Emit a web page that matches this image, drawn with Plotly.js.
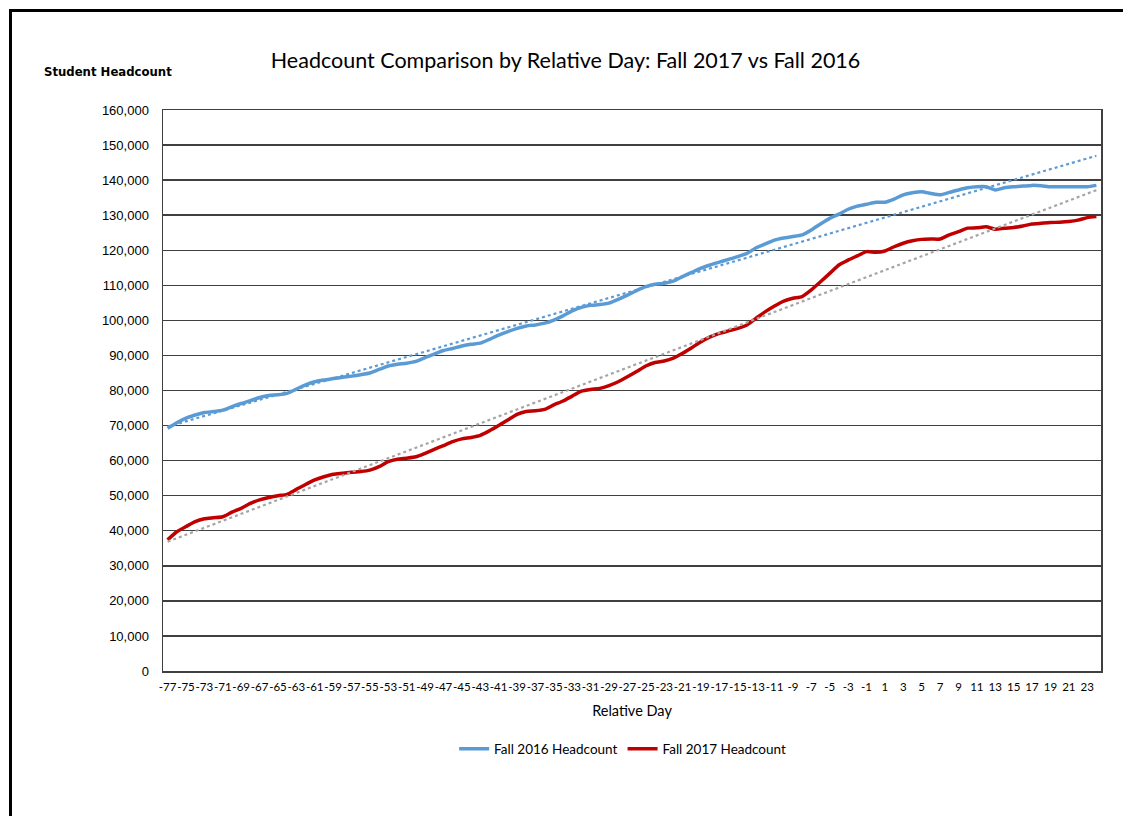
<!DOCTYPE html>
<html>
<head>
<meta charset="utf-8">
<script src="https://cdn.plot.ly/plotly-3.0.1.min.js"></script>
<style>
  html, body { margin: 0; padding: 0; background: #ffffff; }
  #frame { position: absolute; left: 9px; top: 9px; width: 1300px; height: 1000px; border: 3px solid #000; box-sizing: border-box; }
  #chart { position: absolute; left: 0; top: 0; width: 1123px; height: 816px; }
</style>
</head>
<body>
<div id="frame"></div>
<div id="chart"></div>
<script>
// Relative day categories (day 0 included, unlabelled)
const relativeDays = [-77,-76,-75,-74,-73,-72,-71,-70,-69,-68,-67,-66,-65,-64,-63,-62,-61,-60,-59,-58,
  -57,-56,-55,-54,-53,-52,-51,-50,-49,-48,-47,-46,-45,-44,-43,-42,-41,-40,-39,-38,
  -37,-36,-35,-34,-33,-32,-31,-30,-29,-28,-27,-26,-25,-24,-23,-22,-21,-20,-19,-18,
  -17,-16,-15,-14,-13,-12,-11,-10,-9,-8,-7,-6,-5,-4,-3,-2,-1,0,1,2,
  3,4,5,6,7,8,9,10,11,12,13,14,15,16,17,18,19,20,21,22,23,24];

const fall2016Headcount = [69200,70800,72100,73000,73700,74000,74400,75400,76300,77100,78000,78600,78800,79200,80400,81600,82500,83000,83400,83800,
  84100,84500,85000,86000,87000,87500,87800,88300,89400,90400,91400,92000,92700,93200,93500,94600,95800,96800,97700,98400,
  98700,99200,100100,101300,102700,103700,104300,104500,104900,106000,107200,108500,109600,110300,110600,111200,112500,113700,114900,115800,
  116600,117400,118200,119100,120700,121800,122900,123500,123900,124400,125800,127500,129100,130300,131700,132600,133100,133700,133700,134600,
  135800,136400,136700,136200,135800,136500,137200,137800,138100,138100,137200,137800,138100,138300,138500,138400,138100,138100,138100,138100,138100,138500];

const fall2017Headcount = [37400,39700,41200,42600,43400,43700,44000,45300,46400,47800,48800,49500,50000,50400,51800,53200,54500,55400,56100,56400,
  56700,56900,57300,58300,59700,60400,60700,61100,62100,63200,64300,65400,66200,66600,67200,68500,70000,71600,73200,74000,
  74200,74600,75900,77000,78400,79800,80300,80600,81400,82500,83900,85400,87000,88000,88400,89200,90600,92200,93900,95300,
  96300,97000,97700,98700,100600,102500,104100,105500,106300,106800,108700,111000,113400,115800,117200,118400,119600,119400,119800,121000,
  122000,122700,123100,123200,123200,124400,125300,126300,126400,126700,126000,126300,126500,126900,127500,127700,127900,128000,128200,128600,129300,129600];

const xTickLabels = [-77,-75,-73,-71,-69,-67,-65,-63,-61,-59,-57,-55,-53,-51,-49,-47,-45,-43,-41,-39,
  -37,-35,-33,-31,-29,-27,-25,-23,-21,-19,-17,-15,-13,-11,-9,-7,-5,-3,-1,1,3,5,7,9,11,13,15,17,19,21,23];

const yTickValues = [0,10000,20000,30000,40000,50000,60000,70000,80000,90000,100000,110000,120000,130000,140000,150000,160000];

const seriesNames = ["Fall 2016 Headcount", "Fall 2017 Headcount"];

// Linear trendline (least squares over category index), as Excel does
function linearTrend(ys) {
  const n = ys.length;
  let sx = 0, sy = 0, sxx = 0, sxy = 0;
  for (let i = 0; i < n; i++) { const x = i + 1; sx += x; sy += ys[i]; sxx += x * x; sxy += x * ys[i]; }
  const b = (n * sxy - sx * sy) / (n * sxx - sx * sx);
  const a = (sy - b * sx) / n;
  return ys.map((_, i) => a + b * (i + 1));
}

const traces = [
  { x: relativeDays, y: fall2016Headcount, name: seriesNames[0], type: 'scatter', mode: 'lines',
    line: { color: '#5B9BD5', width: 3.5, shape: 'spline', smoothing: 0.6 } },
  { x: relativeDays, y: fall2017Headcount, name: seriesNames[1], type: 'scatter', mode: 'lines',
    line: { color: '#C00000', width: 3.5, shape: 'spline', smoothing: 0.6 } },
  { x: relativeDays, y: linearTrend(fall2016Headcount), type: 'scatter', mode: 'lines', showlegend: false, hoverinfo: 'skip',
    line: { color: '#5B9BD5', width: 2.2, dash: 'dot' } },
  { x: relativeDays, y: linearTrend(fall2017Headcount), type: 'scatter', mode: 'lines', showlegend: false, hoverinfo: 'skip',
    line: { color: '#A5A5A5', width: 2.2, dash: 'dot' } }
];

const layout = {
  width: 1123, height: 816,
  margin: { l: 163, r: 22, t: 110, b: 145 },
  paper_bgcolor: 'rgba(0,0,0,0)',
  plot_bgcolor: '#ffffff',
  showlegend: true,
  title: {
    text: 'Headcount Comparison by Relative Day: Fall 2017 vs Fall 2016',
    font: { family: 'Lato, "Open Sans", sans-serif', size: 21.5, color: '#000' },
    xref: 'container', x: 0.5036, xanchor: 'center',
    yref: 'container', y: 1 - 60 / 816, yanchor: 'middle'
  },
  xaxis: {
    range: [-77.5, 24.5],
    tickmode: 'array', tickvals: xTickLabels, ticktext: xTickLabels.map(String),
    tickangle: 0,
    ticks: '', showgrid: false, zeroline: false,
    showline: true, linecolor: '#404040', linewidth: 1.5, mirror: true,
    tickfont: { family: 'Lato, sans-serif', size: 11.5, color: '#000' },
    ticklabelstandoff: 5,
    title: { text: 'Relative Day', font: { family: 'Lato, sans-serif', size: 14.5, color: '#000' }, standoff: 13 },
    fixedrange: true
  },
  yaxis: {
    range: [0, 160000],
    tickmode: 'array', tickvals: yTickValues,
    ticktext: yTickValues.map(v => v.toLocaleString('en-US')),
    ticks: '', showgrid: true, gridcolor: '#404040', gridwidth: 1.4, zeroline: false,
    showline: true, linecolor: '#404040', linewidth: 1.5, mirror: true,
    tickfont: { family: '"Liberation Sans", Arial, sans-serif', size: 13, color: '#000' },
    ticklabelstandoff: 10,
    fixedrange: true
  },
  legend: {
    orientation: 'h', x: 0.49, xanchor: 'center', y: -0.139, yanchor: 'middle',
    bgcolor: 'rgba(0,0,0,0)',
    font: { family: 'Lato, sans-serif', size: 13.5, color: '#000' },
    itemwidth: 30
  },
  annotations: [{
    text: '<b>Student Headcount</b>', showarrow: false,
    xref: 'paper', yref: 'paper', x: (42 - 163) / 937.7, xanchor: 'left', y: (671 - 72) / 561, yanchor: 'middle',
    font: { family: '"DejaVu Sans", sans-serif', size: 11.7, color: '#000' }
  }]
};

Plotly.newPlot('chart', traces, layout, { displayModeBar: false, staticPlot: true });
</script>
</body>
</html>
